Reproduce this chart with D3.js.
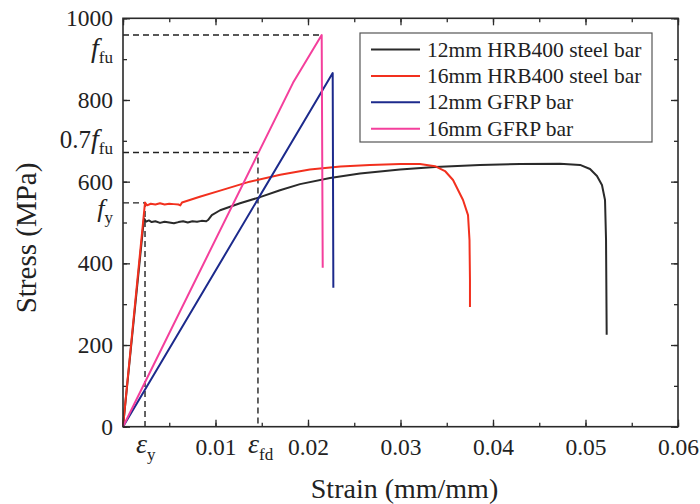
<!DOCTYPE html>
<html>
<head>
<meta charset="utf-8">
<script src="https://cdn.jsdelivr.net/npm/d3@7"></script>
<style>
    body { margin: 0; background: #fff; }
    svg { font-family: "Liberation Serif", "Times New Roman", serif; }
    .frame { fill: none; stroke: #2a2a2a; stroke-width: 1.6; }
    .axis path { display: none; }
    .axis line { stroke: #2a2a2a; stroke-width: 1.3; }
    .axis text { font-size: 23.5px; fill: #222; font-family: "Liberation Serif", serif; }
    .curve { fill: none; stroke-width: 2; stroke-linejoin: round; }
    .guide { fill: none; stroke: #222; stroke-width: 1.4; stroke-dasharray: 6,4; }
</style>
</head>
<body>
<svg id="chart" width="700" height="504"></svg>
<script>
// 12mm HRB400 steel bar
const steel12Strain = [0, 0.00227, 0.0025, 0.0028, 0.0031, 0.0035, 0.0040, 0.0045, 0.0050, 0.0055, 0.0060, 0.0065, 0.0070, 0.0075, 0.0080, 0.0085, 0.0090, 0.00919, 0.0096, 0.0105, 0.01265, 0.01481, 0.01697, 0.01914, 0.02238, 0.02562, 0.02995, 0.03373, 0.03859, 0.04292, 0.04724, 0.04941, 0.05049, 0.05124, 0.05178, 0.05211, 0.05222, 0.05229];
const steel12Stress = [0, 510, 502, 505, 501, 503, 499, 502, 500, 498, 501, 503, 500, 503, 502, 504, 503, 506, 518, 530, 547, 562, 579, 594, 609, 620, 630, 636, 641, 643, 644, 641, 631, 614, 592, 555, 457, 225];

// 16mm HRB400 steel bar
const steel16Strain = [0, 0.00238, 0.0026, 0.0030, 0.0035, 0.0040, 0.0045, 0.0050, 0.0055, 0.0060, 0.0062, 0.00638, 0.0083, 0.0105, 0.0137, 0.0170, 0.0202, 0.0235, 0.0267, 0.0300, 0.0321, 0.03373, 0.03481, 0.03568, 0.03676, 0.0373, 0.03746, 0.03751, 0.03751];
const steel16Stress = [0, 549, 542, 546, 544, 547, 544, 546, 545, 544, 542, 549, 563, 578, 600, 617, 630, 637, 641, 643, 643, 638, 626, 604, 555, 518, 457, 359, 293];

// 12mm GFRP bar
const gfrp12Strain = [0, 0.02267, 0.02274];
const gfrp12Stress = [0, 866, 340];

// 16mm GFRP bar
const gfrp16Strain = [0, 0.01838, 0.02148, 0.02159];
const gfrp16Stress = [0, 842, 959, 389];

const seriesNames = ["12mm HRB400 steel bar", "16mm HRB400 steel bar", "12mm GFRP bar", "16mm GFRP bar"];
const seriesColors = ["#2a2a2a", "#f2301e", "#1c2a8c", "#f43f9c"];

const xTicks = [0.01, 0.02, 0.03, 0.04, 0.05, 0.06];
const yTicks = [0, 200, 400, 600, 800, 1000];

// design values (dashed guides)
const fFu = 959;
const fY = 548;
const epsY = 0.00238;
const epsFd = 0.01459;

const svg = d3.select("#chart");
const margin = { left: 123, right: 22, top: 18.3, bottom: 77.3 };
const width = 700 - margin.left - margin.right;
const height = 504 - margin.top - margin.bottom;

const chart = svg.append("g")
    .attr("transform", "translate(" + margin.left + "," + margin.top + ")");

const xScale = d3.scaleLinear().domain([0, 0.06]).range([0, width]);
const yScale = d3.scaleLinear().domain([0, 1000]).range([height, 0]);

const minorX = d3.range(0, 0.0601, 0.005);
const minorY = d3.range(0, 1001, 100);

// ticks, all pointing inward
function minorAxis(axis, scale, vals) {
    return axis(scale).tickValues(vals).tickSizeInner(-4).tickSizeOuter(0).tickFormat("");
}

chart.append("g").attr("class", "axis")
    .attr("transform", "translate(0," + height + ")")
    .call(minorAxis(d3.axisBottom, xScale, minorX));
chart.append("g").attr("class", "axis")
    .attr("transform", "translate(0," + height + ")")
    .call(d3.axisBottom(xScale).tickValues(xTicks).tickSizeInner(-7).tickSizeOuter(0)
        .tickPadding(12).tickFormat(d3.format(".2f")));

chart.append("g").attr("class", "axis")
    .call(minorAxis(d3.axisTop, xScale, minorX));
chart.append("g").attr("class", "axis")
    .call(d3.axisTop(xScale).tickValues(d3.range(0, 0.0601, 0.01)).tickSizeInner(-7).tickSizeOuter(0).tickFormat(""));

chart.append("g").attr("class", "axis")
    .call(minorAxis(d3.axisLeft, yScale, minorY));
chart.append("g").attr("class", "axis")
    .call(d3.axisLeft(yScale).tickValues(yTicks).tickSizeInner(-7).tickSizeOuter(0)
        .tickPadding(10).tickFormat(d3.format("d")));

chart.append("g").attr("class", "axis")
    .attr("transform", "translate(" + width + ",0)")
    .call(minorAxis(d3.axisRight, yScale, minorY));
chart.append("g").attr("class", "axis")
    .attr("transform", "translate(" + width + ",0)")
    .call(d3.axisRight(yScale).tickValues(yTicks).tickSizeInner(-7).tickSizeOuter(0).tickFormat(""));

// dashed guide lines
const guide = d3.line()
    .x(function (d) { return xScale(d[0]); })
    .y(function (d) { return yScale(d[1]); });

chart.append("path").attr("class", "guide")
    .attr("d", guide([[0, fFu], [gfrp16Strain[2], fFu]]));
chart.append("path").attr("class", "guide")
    .attr("d", guide([[0, 0.7 * fFu], [epsFd, 0.7 * fFu], [epsFd, 0]]));
chart.append("path").attr("class", "guide")
    .attr("d", guide([[0, fY], [epsY, fY], [epsY, 0]]));

// curves
const allStrain = [steel12Strain, steel16Strain, gfrp12Strain, gfrp16Strain];
const allStress = [steel12Stress, steel16Stress, gfrp12Stress, gfrp16Stress];

const curveLine = d3.line()
    .x(function (d) { return xScale(d.strain); })
    .y(function (d) { return yScale(d.stress); });

[0, 1, 2, 3].forEach(function (i) {
    const pts = allStrain[i].map(function (s, j) { return { strain: s, stress: allStress[i][j] }; });
    chart.append("path")
        .datum(pts)
        .attr("class", "curve")
        .attr("stroke", seriesColors[i])
        .attr("d", curveLine);
});

chart.append("rect").attr("class", "frame")
    .attr("width", width).attr("height", height);

// symbol labels on the y axis
function symbolLabel(x, y, pre, sym, sub, symSize) {
    const t = chart.append("text")
        .attr("x", x).attr("y", y)
        .attr("text-anchor", "end")
        .attr("fill", "#222");
    if (pre) t.append("tspan").attr("font-size", 25).text(pre);
    t.append("tspan").attr("font-size", symSize).attr("font-style", "italic").text(sym);
    t.append("tspan").attr("font-size", 17).attr("dy", 6).text(sub);
    return t;
}

symbolLabel(-10, yScale(fFu) + 22, null, "f", "fu", 28);
symbolLabel(-10, yScale(0.7 * fFu) - 5, "0.7", "f", "fu", 28);
symbolLabel(-10, yScale(fY) + 14, null, "f", "y", 26);

// strain labels on the x axis
function epsLabel(x, sub) {
    const t = chart.append("text")
        .attr("x", x).attr("y", height + 26)
        .attr("fill", "#222");
    t.append("tspan").attr("font-size", 28).attr("font-style", "italic").text("ε");
    t.append("tspan").attr("font-size", 17).attr("dy", 7).text(sub);
}
epsLabel(xScale(epsY) - 9, "y");
epsLabel(xScale(epsFd) - 10, "fd");

// axis titles
svg.append("text")
    .attr("x", margin.left + width / 2 + 4).attr("y", 498)
    .attr("text-anchor", "middle")
    .attr("font-size", 28).attr("fill", "#222")
    .text("Strain (mm/mm)");

svg.append("text")
    .attr("transform", "translate(36," + 238 + ") rotate(-90)")
    .attr("text-anchor", "middle")
    .attr("font-size", 29).attr("fill", "#222")
    .text("Stress (MPa)");

// legend
const legend = svg.append("g").attr("transform", "translate(360,33)");
legend.append("rect")
    .attr("width", 292).attr("height", 109)
    .attr("fill", "#fff").attr("stroke", "#555").attr("stroke-width", 1.2);

seriesNames.forEach(function (name, i) {
    const row = legend.append("g").attr("transform", "translate(0," + (16.5 + i * 26.4) + ")");
    row.append("line")
        .attr("x1", 11).attr("x2", 60)
        .attr("stroke", seriesColors[i]).attr("stroke-width", 2);
    row.append("text")
        .attr("x", 67).attr("y", 7)
        .attr("font-size", 21.5).attr("fill", "#222")
        .text(name);
});
</script>
</body>
</html>
